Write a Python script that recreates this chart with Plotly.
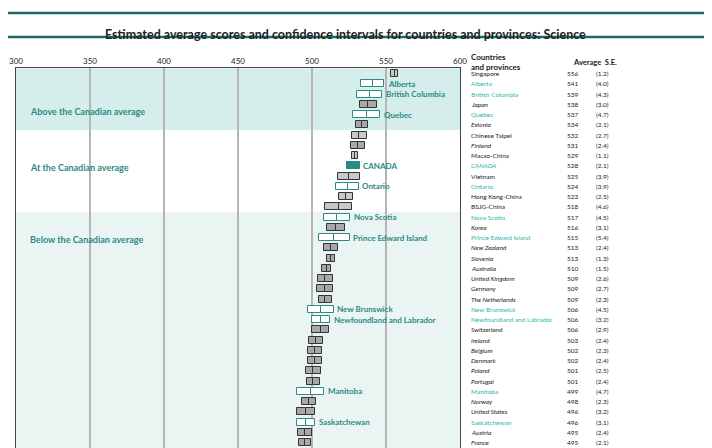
import plotly.graph_objects as go

names = ["Singapore","Alberta","British Columbia","Japan","Quebec","Estonia","Chinese Taipei","Finland",
         "Macao-China","CANADA","Vietnam","Ontario","Hong Kong-China","BSJG-China","Nova Scotia","Korea",
         "Prince Edward Island","New Zealand","Slovenia","Australia","United Kingdom","Germany",
         "The Netherlands","New Brunswick","Newfoundland and Labrador","Switzerland","Ireland","Belgium",
         "Denmark","Poland","Portugal","Manitoba","Norway","United States","Saskatchewan","Austria",
         "France","Sweden"]
averages = [556,541,539,538,537,534,532,531,529,528,525,524,523,518,517,516,515,513,513,510,509,509,
            509,506,506,506,503,502,502,501,501,499,498,496,496,495,495,493]
ses = [1.2,4.0,4.3,3.0,4.7,2.1,2.7,2.4,1.1,2.1,3.9,3.9,2.5,4.6,4.5,3.1,5.4,2.4,1.3,1.5,2.6,2.7,
       2.3,4.5,3.2,2.9,2.4,2.3,2.4,2.5,2.4,4.7,2.3,3.2,3.1,2.4,2.1,3.6]
kinds = ["c","p","p","ci","p","ci","c","ci","c","canada","c","p","c","c","p","ci","p","ci","ci","ci","ci","ci",
         "ci","p","p","ci","ci","ci","ci","ci","ci","p","ci","ci","p","ci","ci","ci"]
groups = [("Above the Canadian average", -0.5, 5.5, 3.75, "#d5eeeb"),
          ("At the Canadian average", 5.5, 13.5, 9.2, "white"),
          ("Below the Canadian average", 13.5, 40, 16.2, "#eaf5f3")]
x_ticks = [300,350,400,450,500,550,600]

TEAL = "#2a8a84"
DARK = "#1f6b67"
FONT = "Lato"
H = 388.0

def py(p):
    return (448 - p) / H

fig = go.Figure()
n = len(names)
ys = list(range(n))
lo = [a - 1.96*s for a, s in zip(averages, ses)]
fills, lines = [], []
for k in kinds:
    if k == "p":
        fills.append("white"); lines.append(TEAL)
    elif k == "canada":
        fills.append(TEAL); lines.append(TEAL)
    elif k == "c":
        fills.append("#c8c8c8"); lines.append("#333333")
    else:
        fills.append("#a8a8a8"); lines.append("#333333")
half = [1.96*s for s in ses]
for base in (lo, averages):
    fig.add_trace(go.Bar(y=ys, x=half, base=base, orientation="h", width=0.68,
                         marker=dict(color=fills, line=dict(color=lines, width=1)),
                         hoverinfo="skip", showlegend=False))

for g, y0, y1, ylab, col in groups:
    fig.add_shape(type="rect", xref="paper", yref="y", x0=0, x1=1, y0=y0, y1=y1,
                  fillcolor=col, line_width=0, layer="below")
    fig.add_annotation(x=0.027, xref="paper", y=ylab, yref="y", text=f"<b>{g}</b>", showarrow=False,
                       xanchor="left", font=dict(size=9, color=TEAL, family=FONT))

for i, (nm, a, s, k) in enumerate(zip(names, averages, ses, kinds)):
    teal = k in ("p", "canada")
    ital = k == "ci"
    col = "#2fb5ab" if teal else "#222222"
    txt = f"<i>{nm}</i>" if ital or k == "canada" else nm
    fig.add_annotation(x=1.02, xref="paper", y=i, yref="y", text=txt, showarrow=False, xanchor="left",
                       font=dict(size=6.5, color=col, family=FONT))
    fig.add_annotation(x=1.273, xref="paper", y=i, yref="y", text=str(a), showarrow=False, xanchor="right",
                       font=dict(size=6.5, color="#222", family=FONT))
    fig.add_annotation(x=1.34, xref="paper", y=i, yref="y", text=f"({s:.1f})", showarrow=False, xanchor="right",
                       font=dict(size=6.5, color="#222", family=FONT))
    if teal:
        fig.add_annotation(x=a + 1.96*s + 1, y=i, text=f"<b>{nm}</b>", showarrow=False, xanchor="left",
                           font=dict(size=8, color=TEAL, family=FONT))

fig.add_annotation(x=1.02, xref="paper", y=py(42), yref="paper", text="<b>Countries<br>and provinces</b>",
                   showarrow=False, xanchor="left", align="left", font=dict(size=8, color="#222", family=FONT))
fig.add_annotation(x=1.305, xref="paper", y=py(48), yref="paper", text="<b>Average  S.E.</b>",
                   showarrow=False, xanchor="center", font=dict(size=7.5, color="#222", family=FONT))
fig.add_annotation(x=(337-8)/444, xref="paper", y=py(17), yref="paper",
                   text="<b>Estimated average scores and confidence intervals for countries and provinces: Science</b>",
                   showarrow=False, xanchor="center", font=dict(size=12.5, color="#222", family=FONT))
for yp in (5, 29):
    fig.add_shape(type="line", xref="paper", yref="paper", x0=-8/444, x1=(700-8)/444,
                  y0=py(yp), y1=py(yp), line=dict(color=DARK, width=2.5))

fig.update_layout(
    width=712, height=448, margin=dict(l=8, r=260, t=60, b=0, autoexpand=False),
    plot_bgcolor="white", paper_bgcolor="white", barmode="overlay", bargap=0,
    font=dict(family=FONT),
    xaxis=dict(range=[300, 600], side="top", tickvals=x_ticks, showgrid=True, gridcolor="#b5b5b5",
               gridwidth=1.5, zeroline=False, tickfont=dict(size=8, color="#222"), showline=True,
               linecolor="#444", mirror=True, ticks="", automargin=False),
    yaxis=dict(range=[37.3, -0.54], showticklabels=False, showgrid=False, zeroline=False,
               showline=True, linecolor="#444", mirror=True, automargin=False),
)
fig.write_html("out.html")
